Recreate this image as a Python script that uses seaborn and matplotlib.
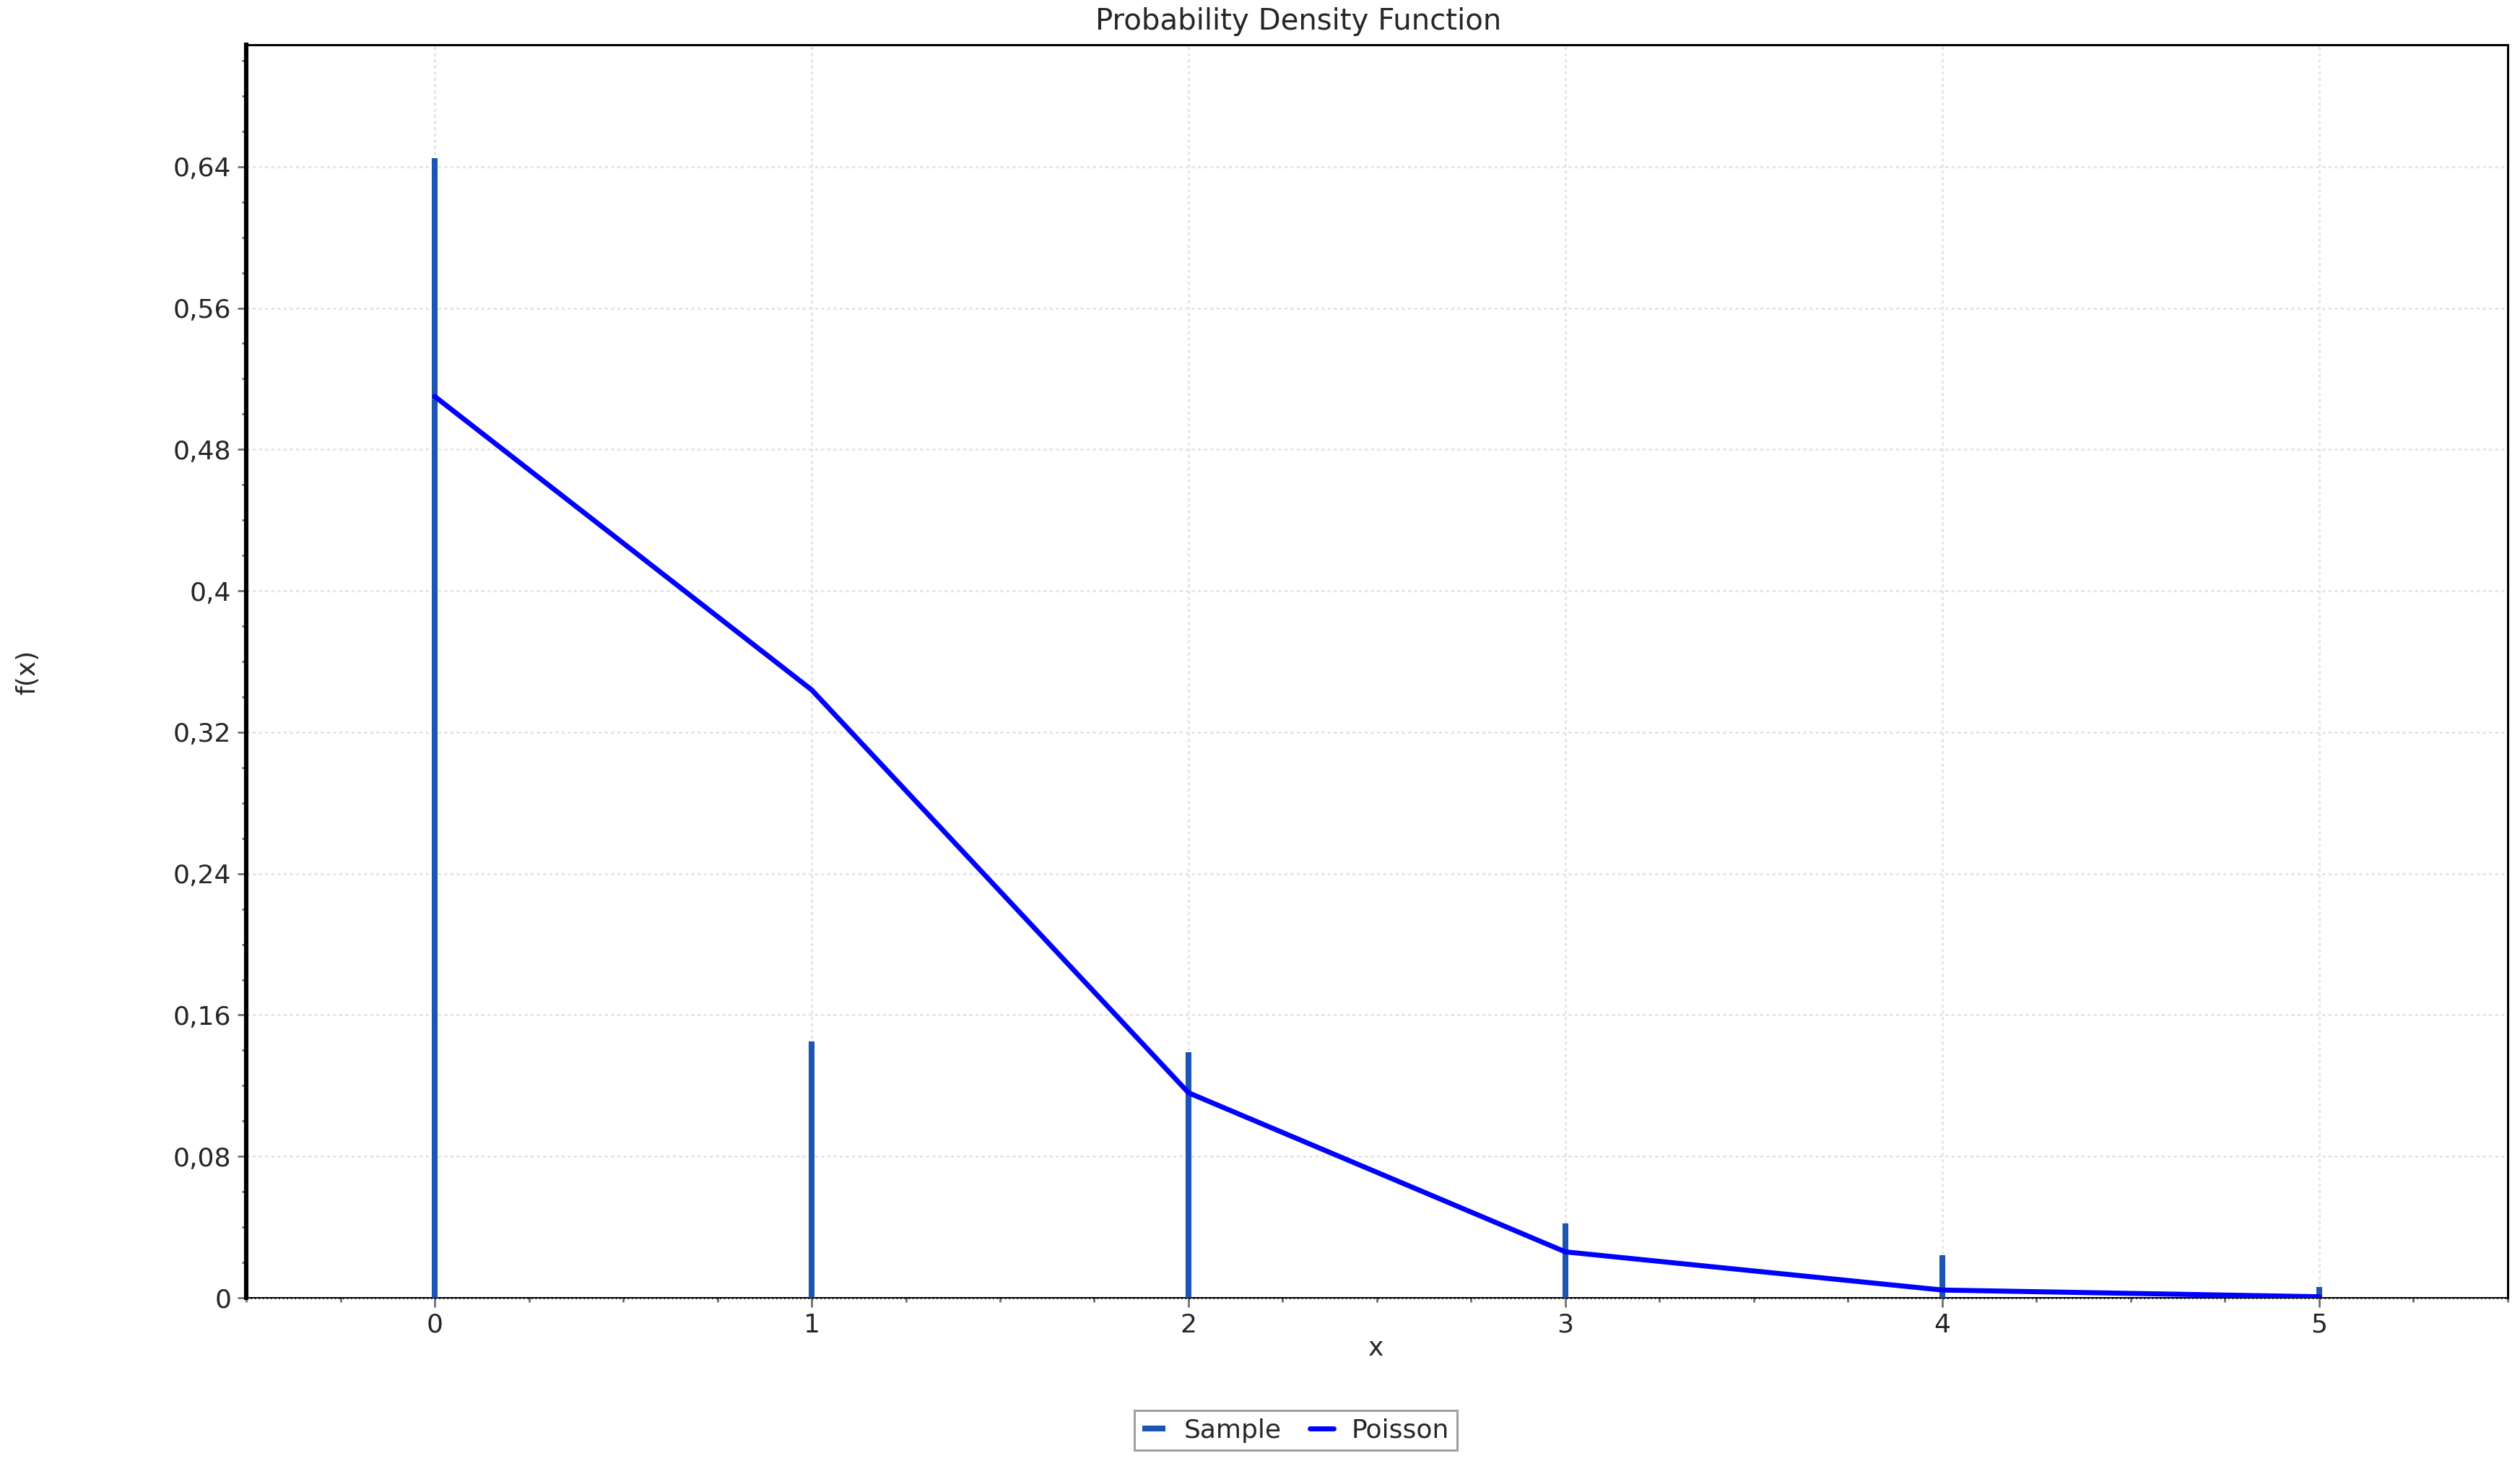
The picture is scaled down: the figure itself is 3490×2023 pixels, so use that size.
import matplotlib
matplotlib.use("Agg")
import matplotlib.pyplot as plt
import seaborn as sns
from matplotlib.ticker import MultipleLocator

# values
x_vals = [0, 1, 2, 3, 4, 5]
sample_pmf = [0.645, 0.145, 0.139, 0.042, 0.024, 0.006]
poisson_pmf = [0.510, 0.344, 0.116, 0.026, 0.0044, 0.0006]
x_ticks = [0, 1, 2, 3, 4, 5]
y_ticks = [0, 0.08, 0.16, 0.24, 0.32, 0.40, 0.48, 0.56, 0.64]
y_tick_labels = ["0", "0,08", "0,16", "0,24", "0,32", "0,4", "0,48", "0,56", "0,64"]

sns.set_theme(style="white")
plt.rcParams["font.family"] = ["DejaVu Sans"]

fig = plt.figure(figsize=(17.455, 10.115), dpi=200)
ax = fig.add_axes([0.0977, 0.1117, 0.8971, 0.8577])

# ── Marcas ──────────────────────────────────────────────────────────
ax.vlines(x_vals, 0, sample_pmf, colors="#1c55b2", linewidth=2.9,
          label="Sample", zorder=3)
sns.lineplot(x=x_vals, y=poisson_pmf, color="#0000ff", linewidth=2.5,
             ax=ax, label="Poisson", zorder=4)

# ── Ejes ────────────────────────────────────────────────────────────
ax.set_xlim(-0.5, 5.5)
ax.set_ylim(0, 0.709)
ax.set_xticks(x_ticks)
ax.set_yticks(y_ticks)
ax.set_yticklabels(y_tick_labels)
ax.xaxis.set_minor_locator(MultipleLocator(0.25))
ax.yaxis.set_minor_locator(MultipleLocator(0.02))

ax.grid(True, which="major", color="#e6e6e6", linewidth=1.1,
        linestyle=(0, (1.4, 1.4)), zorder=0)
ax.set_axisbelow(True)

ax.tick_params(which="both", direction="out", bottom=True, left=True,
               top=False, right=False, color="#707070")
ax.tick_params(which="major", length=4.5, width=1.0, labelsize=13, pad=3)
ax.tick_params(which="minor", length=2.3, width=1.0)

for side, lw in {"left": 2.2, "top": 1.1, "right": 1.1, "bottom": 0.7}.items():
    ax.spines[side].set_color("black")
    ax.spines[side].set_linewidth(lw)
# linea punteada sobre el eje x
ax.axhline(0, color="black", linewidth=1.0, linestyle=(0, (0.7, 1.3)),
           zorder=2, clip_on=False)

# titulos de ejes como texto de figura
fig.text(0.546, 0.077, "x", ha="center", va="center", fontsize=13)
fig.text(0.0109, 0.54, "f(x)", ha="center", va="center", rotation=90,
         fontsize=13)
fig.text(0.515, 0.985, "Probability Density Function", ha="center",
         va="center", fontsize=14.5)

# ── Leyenda ─────────────────────────────────────────────────────────
handles, labels = ax.get_legend_handles_labels()
ax.get_legend().remove()
leg = fig.legend(handles, labels, loc="center", bbox_to_anchor=(0.514, 0.021),
                 ncol=2, frameon=True, fancybox=False, edgecolor="#a0a0a0",
                 framealpha=1, fontsize=13, handlelength=0.9,
                 handletextpad=0.7, columnspacing=1.1, borderpad=0.3)
leg.get_frame().set_linewidth(1.1)

fig.savefig("out.png", dpi=200, facecolor="white")
